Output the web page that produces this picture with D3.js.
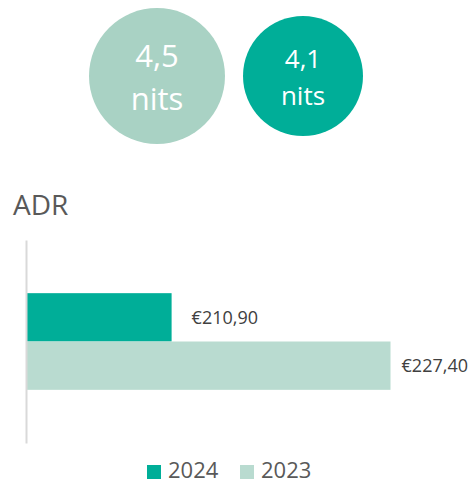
<!DOCTYPE html>
<html>
<head>
<meta charset="utf-8">
<script src="https://cdn.jsdelivr.net/npm/d3@7"></script>
<style>
  body { margin: 0; background: #fff; }
  svg { display: block; font-family: "Open Sans", sans-serif; }
</style>
</head>
<body>
<svg width="471" height="483"></svg>
<script>
// circles up top (rating, "nits")
var bubbleYears = ["2023", "2024"];
var bubbleValues = ["4,5", "4,1"];
var bubbleUnit = "nits";

// ADR bars
var categories = ["ADR"];
var years = ["2024", "2023"];
var adrValues = [210.90, 227.40];
var adrLabels = ["€210,90", "€227,40"];

var colors = {"2024": "#00ae98", "2023": "#b9dbd0"};
var bubbleColors = {"2023": "#a9d2c4", "2024": "#00ae98"};

var svg = d3.select("svg");
var W = +svg.attr("width");

// bubbles
var bubbles = [
  {year: bubbleYears[0], value: bubbleValues[0], cx: 157, cy: 76, r: 68, fs: 31, gap: 43},
  {year: bubbleYears[1], value: bubbleValues[1], cx: 303, cy: 76, r: 60, fs: 26, gap: 37}
];

var bg = svg.selectAll("g.bubble").data(bubbles).enter().append("g")
    .attr("class", "bubble")
    .attr("transform", function(d) { return "translate(" + d.cx + "," + d.cy + ")"; });

bg.append("circle")
    .attr("r", function(d) { return d.r; })
    .attr("fill", function(d) { return bubbleColors[d.year]; });

bg.append("text")
    .attr("text-anchor", "middle")
    .attr("y", function(d) { return d.year === "2023" ? -9 : -8; })
    .attr("font-size", function(d) { return d.fs; })
    .attr("fill", "#fff")
    .text(function(d) { return d.value; });

bg.append("text")
    .attr("text-anchor", "middle")
    .attr("y", function(d) { return (d.year === "2023" ? -9 : -8) + d.gap; })
    .attr("font-size", function(d) { return d.fs; })
    .attr("fill", "#fff")
    .text(bubbleUnit);

// title
svg.append("text")
    .attr("x", 13)
    .attr("y", 215)
    .attr("font-size", 28)
    .attr("fill", "#595959")
    .text(categories[0]);

// scales
var x = d3.scaleLinear().domain([200, 230]).range([27, 425]);
var y0 = d3.scaleBand().domain(categories).range([240, 443]).paddingInner(0).paddingOuter(0.55);
var y1 = d3.scaleBand().domain(years).range([0, y0.bandwidth()]);

var bars = years.map(function(yr, i) {
  return {cat: categories[0], year: yr, value: adrValues[i], label: adrLabels[i]};
});

svg.selectAll("rect.bar").data(bars).enter().append("rect")
    .attr("class", "bar")
    .attr("x", x(200))
    .attr("y", function(d) { return y0(d.cat) + y1(d.year); })
    .attr("width", function(d) { return x(d.value) - x(200); })
    .attr("height", y1.bandwidth())
    .attr("fill", function(d) { return colors[d.year]; });

// value labels, pushed left if they'd run off the edge
svg.selectAll("text.val").data(bars).enter().append("text")
    .attr("class", "val")
    .attr("y", function(d) { return y0(d.cat) + y1(d.year) + y1.bandwidth() / 2; })
    .attr("dy", "0.35em")
    .attr("font-size", 18)
    .attr("fill", "#404040")
    .text(function(d) { return d.label; })
    .attr("x", function(d) {
      var w = this.getComputedTextLength();
      return Math.min(x(d.value) + 20, W - 3 - w);
    });

// vertical axis line
var axis = svg.append("g")
    .attr("transform", "translate(26,0)")
    .call(d3.axisLeft(d3.scaleLinear().range([240, 443])).tickValues([]).tickSizeOuter(0));
axis.select(".domain").attr("stroke", "#d9d9d9").attr("stroke-width", 2);

// legend
var legendItems = [{year: "2024", x: 147}, {year: "2023", x: 240}];
var lg = svg.selectAll("g.legend").data(legendItems).enter().append("g")
    .attr("class", "legend")
    .attr("transform", function(d) { return "translate(" + d.x + ",465)"; });

lg.append("rect")
    .attr("width", 14)
    .attr("height", 14)
    .attr("fill", function(d) { return colors[d.year]; });

lg.append("text")
    .attr("x", 21)
    .attr("y", 13)
    .attr("font-size", 22)
    .attr("fill", "#595959")
    .text(function(d) { return d.year; });
</script>
</body>
</html>
